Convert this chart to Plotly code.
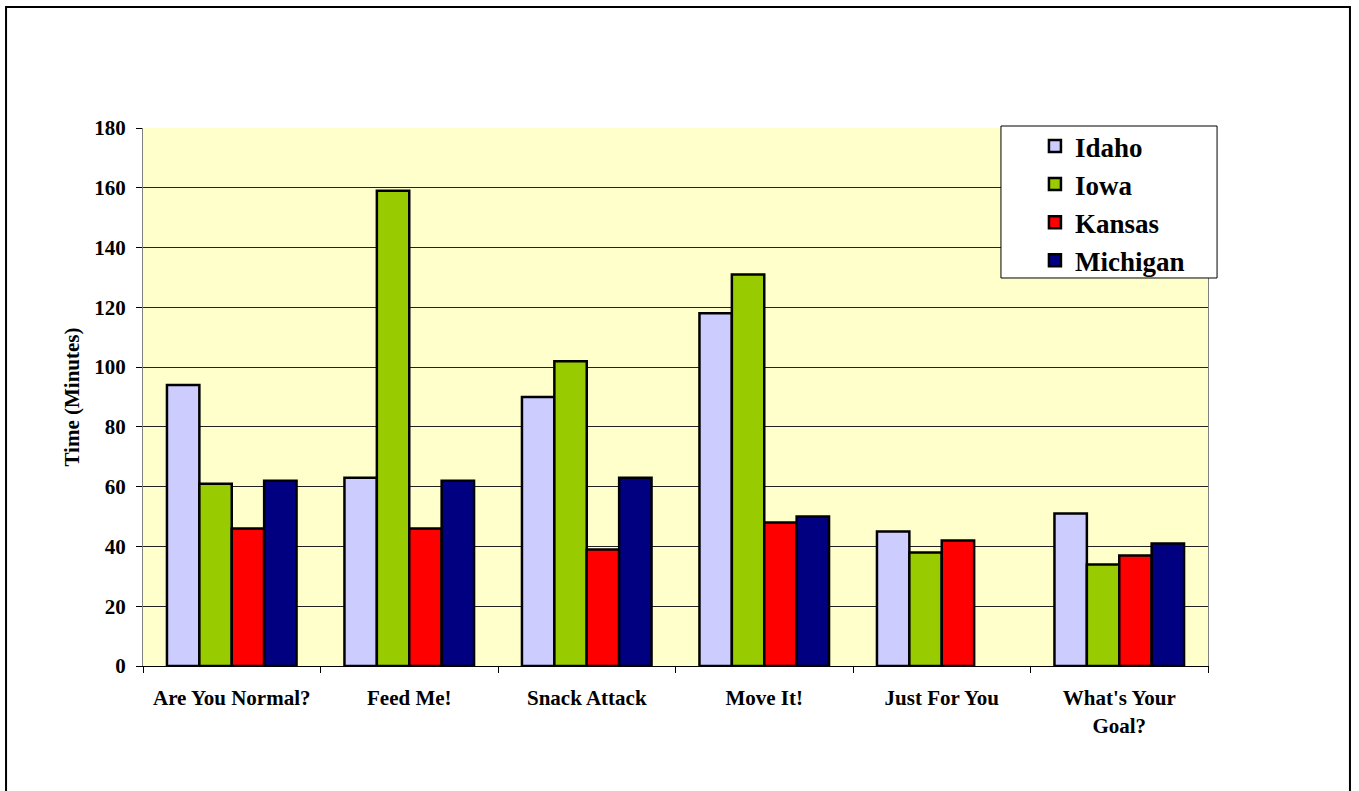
import plotly.graph_objects as go

# Dados
categorias = ["Are You Normal?", "Feed Me!", "Snack Attack", "Move It!",
              "Just For You", "What's Your<br>Goal?"]
idaho = [94, 63, 90, 118, 45, 51]
iowa = [61, 159, 102, 131, 38, 34]
kansas = [46, 46, 39, 48, 42, 37]
michigan = [62, 62, 63, 50, None, 41]

series = [
    ("Idaho", idaho, "#CCCCFF"),
    ("Iowa", iowa, "#99CC00"),
    ("Kansas", kansas, "#FF0000"),
    ("Michigan", michigan, "#000080"),
]

fonte = "Liberation Serif, Times New Roman, serif"

fig = go.Figure()
for nome, valores, cor in series:
    fig.add_trace(go.Bar(
        x=categorias, y=valores, name="<b>" + nome + "</b>", legendgroup=nome,
        marker=dict(color=cor, line=dict(color="black", width=2.5)),
    ))

fig.update_layout(
    barmode="group",
    bargap=0.27,
    bargroupgap=0,
    width=1359, height=791,
    margin=dict(l=143, r=151, t=128, b=125),
    paper_bgcolor="white",
    plot_bgcolor="#FFFFCC",
    font=dict(family=fonte, color="black", size=21),
    showlegend=True,
    legend=dict(
        x=0.8375, y=1.0112, xanchor="left", yanchor="top",
        bgcolor="rgba(0,0,0,0)", borderwidth=0,
        font=dict(family=fonte, size=27, color="black"),
        tracegroupgap=0,
        itemwidth=30,
    ),
    shapes=[
        # moldura externa
        dict(type="rect", xref="paper", yref="paper",
             x0=-0.1286, x1=1.1333, y0=-0.35, y1=1.2249,
             line=dict(color="black", width=2), layer="below"),
        # caixa da legenda
        dict(type="rect", xref="paper", yref="paper",
             x0=0.8056, x1=1.0085, y0=0.7212, y1=1.0037,
             fillcolor="white", line=dict(color="black", width=1), layer="above"),
    ],
)

fig.update_xaxes(
    tickson="boundaries", ticks="outside", ticklen=6, tickcolor="black",
    showline=True, linecolor="black", linewidth=1,
    tickfont=dict(family=fonte, size=21, color="black"),
    tickprefix="<b>", ticksuffix="</b>",
    ticklabelstandoff=13,
    showgrid=False,
)
fig.update_yaxes(
    range=[0, 180], dtick=20, ticks="outside", ticklen=6, tickcolor="black",
    showline=True, linecolor="#808080", linewidth=1, mirror=True,
    gridcolor="#222222", gridwidth=1,
    tickfont=dict(family=fonte, size=21, color="black"),
    tickprefix="<b>", ticksuffix="</b>",
    ticklabelstandoff=6,
    title=dict(text="<b>Time (Minutes)</b>", font=dict(family=fonte, size=21), standoff=8),
    zeroline=False,
)

fig.write_html("out.html", config={"displayModeBar": False},
               post_script="document.body.style.margin='0';")
